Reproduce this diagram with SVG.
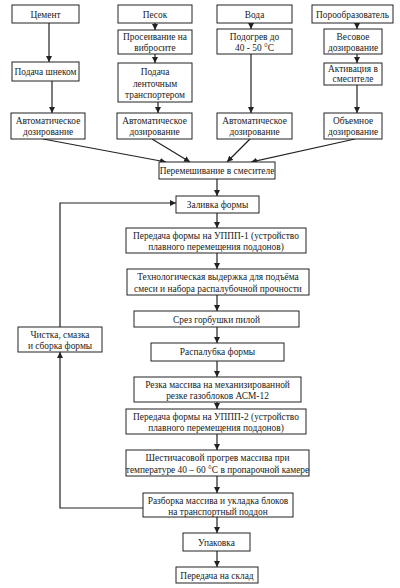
<svg xmlns="http://www.w3.org/2000/svg" width="400" height="588" viewBox="0 0 400 588">
<style>
rect{fill:#fff;stroke:#222;stroke-width:1}
text{font-family:'Liberation Serif','DejaVu Serif',serif;font-size:9.4px;fill:#222;text-anchor:middle}
.c line,.c polyline{stroke:#222;stroke-width:1.2;fill:none}
</style>
<defs>
<marker id="a" markerWidth="6" markerHeight="6" refX="6" refY="3" orient="auto" markerUnits="userSpaceOnUse"><path d="M0,0 L6,3 L0,6 z" fill="#222"/></marker>
</defs>
<rect width="400" height="588" style="stroke:none"/>
<g class="c">
<line x1="49" y1="23" x2="49" y2="62" marker-end="url(#a)"/>
<line x1="52" y1="81" x2="52" y2="113" marker-end="url(#a)"/>
<line x1="155" y1="23" x2="155" y2="30" marker-end="url(#a)"/>
<line x1="155" y1="54" x2="155" y2="63" marker-end="url(#a)"/>
<line x1="158" y1="102" x2="158" y2="113" marker-end="url(#a)"/>
<line x1="251" y1="23" x2="251" y2="29" marker-end="url(#a)"/>
<line x1="251" y1="54" x2="251" y2="113" marker-end="url(#a)"/>
<line x1="357" y1="23" x2="357" y2="29" marker-end="url(#a)"/>
<line x1="357" y1="54" x2="357" y2="63" marker-end="url(#a)"/>
<line x1="357" y1="85" x2="357" y2="113" marker-end="url(#a)"/>
<line x1="43" y1="139" x2="166" y2="162" marker-end="url(#a)"/>
<line x1="152" y1="139" x2="190" y2="162" marker-end="url(#a)"/>
<line x1="250" y1="139" x2="227" y2="162" marker-end="url(#a)"/>
<line x1="355" y1="139" x2="251" y2="162" marker-end="url(#a)"/>
<line x1="217" y1="179" x2="217" y2="196" marker-end="url(#a)"/>
<line x1="217" y1="213" x2="217" y2="228" marker-end="url(#a)"/>
<line x1="217" y1="253" x2="217" y2="269" marker-end="url(#a)"/>
<line x1="217" y1="295" x2="217" y2="311" marker-end="url(#a)"/>
<line x1="217" y1="327" x2="217" y2="343" marker-end="url(#a)"/>
<line x1="217" y1="361" x2="217" y2="377" marker-end="url(#a)"/>
<line x1="217" y1="402" x2="217" y2="409" marker-end="url(#a)"/>
<line x1="217" y1="434" x2="217" y2="450" marker-end="url(#a)"/>
<line x1="217" y1="476" x2="217" y2="493" marker-end="url(#a)"/>
<line x1="217" y1="517" x2="217" y2="533" marker-end="url(#a)"/>
<line x1="217" y1="551" x2="217" y2="567" marker-end="url(#a)"/>
<polyline points="143,508 60,508 60,352" marker-end="url(#a)"/>
<polyline points="60,327 60,203 176,203" marker-end="url(#a)"/>
</g>
<g id="n1"><rect x="12" y="5" width="67" height="18"/><text x="45.5" y="17.5">Цемент</text></g>
<g id="n2"><rect x="12" y="62" width="67" height="19"/><text x="45.5" y="75">Подача шнеком</text></g>
<g id="n3"><rect x="11" y="113" width="74" height="26"/><text x="48" y="124">Автоматическое</text><text x="48" y="135">дозирование</text></g>
<g id="n4"><rect x="118" y="5" width="74" height="18"/><text x="155" y="17.5">Песок</text></g>
<g id="n5"><rect x="118" y="30" width="74" height="24"/><text x="155" y="40">Просеивание на</text><text x="155" y="51">вибросите</text></g>
<g id="n6"><rect x="118" y="63" width="74" height="39"/><text x="155" y="75">Подача</text><text x="155" y="86.5">ленточным</text><text x="155" y="98">транспортером</text></g>
<g id="n7"><rect x="117" y="113" width="75" height="26"/><text x="154.5" y="124">Автоматическое</text><text x="154.5" y="135">дозирование</text></g>
<g id="n8"><rect x="217" y="5" width="75" height="18"/><text x="254.5" y="17.5">Вода</text></g>
<g id="n9"><rect x="217" y="29" width="75" height="25"/><text x="254.5" y="39.5">Подогрев до</text><text x="254.5" y="50.5">40 - 50 °С</text></g>
<g id="n10"><rect x="217" y="113" width="75" height="26"/><text x="254.5" y="124">Автоматическое</text><text x="254.5" y="135">дозирование</text></g>
<g id="n11"><rect x="312" y="5" width="81" height="18"/><text x="352.5" y="17.5">Порообразователь</text></g>
<g id="n12"><rect x="324" y="29" width="58" height="25"/><text x="353" y="39.5">Весовое</text><text x="353" y="50.5">дозирование</text></g>
<g id="n13"><rect x="324" y="63" width="58" height="22"/><text x="353" y="72">Активация в</text><text x="353" y="82">смесителе</text></g>
<g id="n14"><rect x="324" y="113" width="58" height="26"/><text x="353" y="124">Объемное</text><text x="353" y="135">дозирование</text></g>
<g id="n15"><rect x="159" y="162" width="116" height="17"/><text x="217" y="174">Перемешивание в смесителе</text></g>
<g id="n16"><rect x="176" y="196" width="83" height="17"/><text x="217.5" y="208">Заливка формы</text></g>
<g id="n17"><rect x="126" y="228" width="180" height="25"/><text x="216" y="238.5">Передача формы на УППП-1 (устройство</text><text x="216" y="250">плавного перемещения поддонов)</text></g>
<g id="n18"><rect x="127" y="269" width="182" height="26"/><text x="218" y="280">Технологическая выдержка для подъёма</text><text x="218" y="291.5">смеси и набора распалубочной прочности</text></g>
<g id="n19"><rect x="134" y="311" width="165" height="16"/><text x="216.5" y="322.5">Срез горбушки пилой</text></g>
<g id="n20"><rect x="151" y="343" width="133" height="18"/><text x="217.5" y="355">Распалубка формы</text></g>
<g id="n21"><rect x="134" y="377" width="167" height="25"/><text x="217.5" y="387.5">Резка массива на механизированной</text><text x="217.5" y="399">резке газоблоков АСМ-12</text></g>
<g id="n22"><rect x="126" y="409" width="180" height="25"/><text x="216" y="419.5">Передача формы на УППП-2 (устройство</text><text x="216" y="431">плавного перемещения поддонов)</text></g>
<g id="n23"><rect x="126" y="450" width="183" height="26"/><text x="217.5" y="461">Шестичасовой прогрев массива при</text><text x="217.5" y="472.5">температуре 40 – 60 °С в пропарочной камере</text></g>
<g id="n24"><rect x="143" y="493" width="150" height="24"/><text x="218" y="503.5">Разборка массива и укладка блоков</text><text x="218" y="514.5">на транспортный поддон</text></g>
<g id="n25"><rect x="183" y="533" width="67" height="18"/><text x="216.5" y="545.5">Упаковка</text></g>
<g id="n26"><rect x="176" y="567" width="82" height="16"/><text x="217" y="578.5">Передача на склад</text></g>
<g id="n27"><rect x="18" y="327" width="84" height="25"/><text x="60" y="337.5">Чистка, смазка</text><text x="60" y="348.5">и сборка формы</text></g>
</svg>
